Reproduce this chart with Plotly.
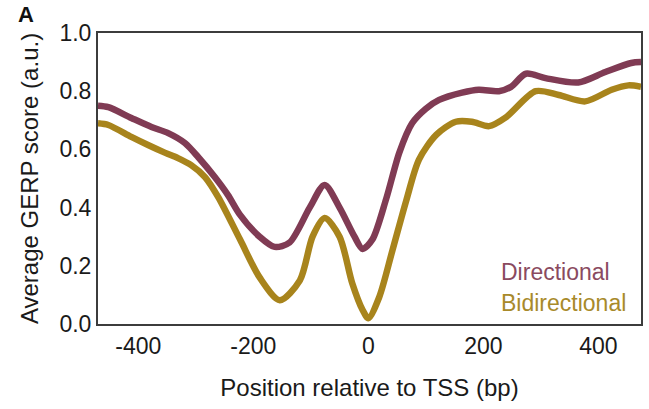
import plotly.graph_objects as go

# Directional series (position in bp, average GERP score)
dir_pos = [-470, -452, -412, -377, -348, -319, -296, -267, -244, -223, -189, -163, -137,
           -102, -76, -50, -24, -10, 7, 31, 54, 76, 100, 123, 163, 192, 227, 248, 274,
           308, 365, 412, 457, 474]
dir_val = [0.75, 0.745, 0.708, 0.677, 0.656, 0.622, 0.574, 0.505, 0.443, 0.375, 0.30,
           0.265, 0.28, 0.40, 0.478, 0.40, 0.30, 0.258, 0.29, 0.43, 0.59, 0.69, 0.74,
           0.77, 0.795, 0.805, 0.80, 0.815, 0.86, 0.845, 0.83, 0.866, 0.897, 0.90]

# Bidirectional series
bid_pos = [-470, -452, -412, -383, -353, -331, -308, -284, -261, -223, -189, -154,
           -119, -97, -76, -50, -28, -10, 0, 19, 42, 66, 88, 118, 152, 180, 210, 239,
           291, 331, 377, 423, 452, 474]
bid_val = [0.69, 0.684, 0.643, 0.615, 0.588, 0.57, 0.546, 0.505, 0.436, 0.29, 0.16,
           0.082, 0.15, 0.30, 0.364, 0.30, 0.14, 0.048, 0.02, 0.093, 0.254, 0.425,
           0.565, 0.65, 0.695, 0.695, 0.68, 0.71, 0.80, 0.787, 0.765, 0.805, 0.82,
           0.815]

x_ticks = [-400, -200, 0, 200, 400]
x_ticktext = ["-400", "-200", "0", "200", "400"]
y_ticks = [0.0, 0.2, 0.4, 0.6, 0.8, 1.0]
y_ticktext = ["0.0", "0.2", "0.4", "0.6", "0.8", "1.0"]

series_names = ["Directional", "Bidirectional"]
series_colors = ["#803b54", "#a8841c"]
label_colors = ["#8a4a60", "#a88a2a"]

FONT = "Liberation Sans, Arial, Helvetica, sans-serif"

fig = go.Figure()
fig.add_trace(go.Scatter(x=dir_pos, y=dir_val, mode="lines", name=series_names[0],
                         line=dict(color=series_colors[0], width=6.5, shape="spline", smoothing=0.8)))
fig.add_trace(go.Scatter(x=bid_pos, y=bid_val, mode="lines", name=series_names[1],
                         line=dict(color=series_colors[1], width=6.5, shape="spline", smoothing=0.8)))

fig.update_layout(
    width=649, height=409,
    margin=dict(l=98, r=6, t=33, b=85),
    paper_bgcolor="white", plot_bgcolor="white",
    showlegend=False,
    font=dict(family=FONT, size=23, color="#1a1a1a"),
    xaxis=dict(range=[-470, 474], tickvals=x_ticks, ticktext=x_ticktext, showgrid=False,
               zeroline=False, showline=True, mirror=True, linecolor="#3c3c3c", linewidth=2,
               ticks="", ticklen=0, tickfont=dict(size=23),
               title=dict(text="Position relative to TSS (bp)", font=dict(size=24), standoff=22)),
    yaxis=dict(range=[0, 1.0], tickvals=y_ticks, ticktext=y_ticktext, showgrid=False,
               zeroline=False, showline=True, mirror=True, linecolor="#3c3c3c", linewidth=2,
               ticks="", ticklen=0, tickfont=dict(size=23),
               title=dict(text="Average GERP score (a.u.)", font=dict(size=24), standoff=14)),
)

fig.add_annotation(x=227, y=0.179, xref="x", yref="y", text=series_names[0], showarrow=False,
                   xanchor="left", yanchor="middle", font=dict(size=23, color=label_colors[0]))
fig.add_annotation(x=227, y=0.072, xref="x", yref="y", text=series_names[1], showarrow=False,
                   xanchor="left", yanchor="middle", font=dict(size=23, color=label_colors[1]))
fig.add_annotation(x=(26 - 98) / (649 - 104), y=1 + (33 - 14) / (409 - 118),
                   xref="paper", yref="paper", text="<b>A</b>", showarrow=False,
                   xanchor="center", yanchor="middle",
                   font=dict(size=22, color="#111111"))

fig.write_html("out.html")
